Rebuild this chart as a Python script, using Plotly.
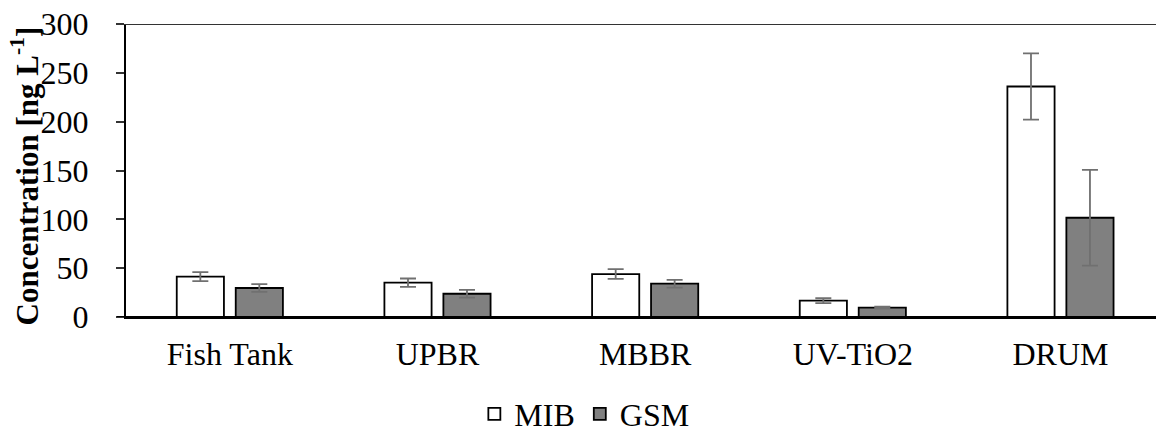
import plotly.graph_objects as go

categories = ["Fish Tank", "UPBR", "MBBR", "UV-TiO2", "DRUM"]
mib_values = [41.3, 35.1, 44.0, 16.7, 236.0]
mib_errors = [4.6, 4.3, 5.0, 2.5, 34.0]
gsm_values = [29.7, 23.8, 34.1, 9.5, 101.6]
gsm_errors = [4.0, 3.9, 4.0, 1.0, 49.0]
y_ticks = [0, 50, 100, 150, 200, 250, 300]

FONT = "Liberation Serif, Times New Roman, serif"
FS = 32

fig = go.Figure()
fig.add_trace(go.Bar(
    name="MIB", x=categories, y=mib_values,
    marker=dict(color="white", line=dict(color="black", width=1.8)),
    error_y=dict(type="data", array=mib_errors, color="#707070", thickness=1.8, width=8),
))
fig.add_trace(go.Bar(
    name="GSM", x=categories, y=gsm_values,
    marker=dict(color="#808080", line=dict(color="black", width=1.8)),
    error_y=dict(type="data", array=gsm_errors, color="#707070", thickness=1.8, width=8),
))

fig.update_layout(
    width=1156, height=434,
    margin=dict(l=126, r=0, t=24, b=117, pad=0, autoexpand=False),
    paper_bgcolor="white", plot_bgcolor="white",
    barmode="group", bargap=0.432, bargroupgap=0.2,
    font=dict(family=FONT, size=FS, color="black"),
    showlegend=True,
    legend=dict(orientation="h", x=0.445, xanchor="center", y=-0.331, yanchor="middle",
                font=dict(size=FS), itemwidth=30, tracegroupgap=0),
)
fig.update_xaxes(
    range=[-0.5, 4.46], showline=True, linecolor="black", linewidth=2,
    ticks="", showgrid=False, tickfont=dict(size=FS), automargin=False,
    ticklabelstandoff=8,
)
fig.update_yaxes(
    range=[0, 300], tickvals=y_ticks, showline=True, linecolor="black", linewidth=2,
    ticks="outside", ticklen=8, tickwidth=1.5, tickcolor="#333333",
    showgrid=False, tickfont=dict(size=FS), automargin=False, ticklabelstandoff=21,
    zeroline=False,
)
fig.add_annotation(
    text="<b>Concentration [ng L<sup>-1</sup>]</b>", textangle=-90,
    xref="paper", yref="paper", x=(25 - 126) / 1030, y=(317 - 176.5) / 293,
    xanchor="center", yanchor="middle", showarrow=False, font=dict(size=31),
)
for yv, col in [(0, "black"), (300, "#333333")]:
    fig.add_shape(type="line", xref="paper", yref="y", x0=-9 / 1030, x1=1, y0=yv, y1=yv,
                  line=dict(color=col, width=2), layer="above")

fig.write_html("out.html", post_script="document.body.style.margin='0';",
               config={"displayModeBar": False})
